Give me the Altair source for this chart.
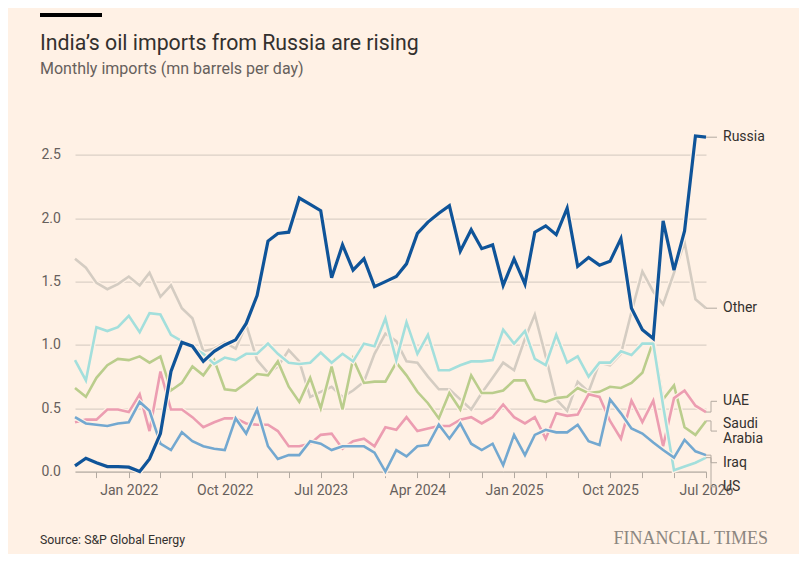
import altair as alt
import pandas as pd

# ---------------- data ----------------
months = [d.strftime("%Y-%m-%d") for d in pd.date_range("2021-08-01", periods=60, freq="MS")]

russia = [0.045, 0.105, 0.07, 0.04, 0.04, 0.035, 0.0, 0.10, 0.30, 0.79,
          1.02, 0.99, 0.87, 0.95, 1.00, 1.04, 1.17, 1.39, 1.82, 1.88,
          1.89, 2.16, 2.11, 2.06, 1.53, 1.79, 1.59, 1.68, 1.46, 1.50,
          1.54, 1.64, 1.88, 1.97, 2.04, 2.10, 1.74, 1.91, 1.76, 1.79,
          1.47, 1.68, 1.48, 1.89, 1.94, 1.87, 2.08, 1.62, 1.69, 1.63,
          1.66, 1.84, 1.29, 1.12, 1.05, 1.98, 1.59, 1.90, 2.65, 2.64]
other = [1.68, 1.61, 1.49, 1.44, 1.48, 1.54, 1.47, 1.57, 1.38, 1.47,
         1.29, 1.21, 0.95, 0.97, 1.02, 0.97, 1.16, 0.88, 0.78, 0.83,
         0.96, 0.87, 0.59, 0.63, 0.67, 0.59, 0.64, 0.71, 0.93, 1.09,
         1.03, 0.87, 0.86, 0.75, 0.65, 0.65, 0.57, 0.49, 0.62, 0.74,
         0.86, 0.80, 1.05, 1.24, 0.91, 0.57, 0.48, 0.71, 0.63, 0.86,
         0.84, 0.93, 1.26, 1.58, 1.42, 1.32, 1.57, 1.81, 1.36, 1.29]
iraq = [0.88, 0.72, 1.14, 1.11, 1.14, 1.23, 1.10, 1.25, 1.24, 1.08,
        1.03, 0.98, 0.93, 0.85, 0.90, 0.88, 0.93, 0.93, 1.01, 0.93,
        0.86, 0.85, 0.86, 0.94, 0.86, 0.93, 0.87, 1.01, 0.99, 1.21,
        0.88, 1.18, 0.93, 1.08, 0.80, 0.80, 0.84, 0.87, 0.87, 0.88,
        1.12, 1.01, 1.11, 0.89, 0.84, 1.08, 0.86, 0.91, 0.75, 0.86,
        0.86, 0.95, 0.92, 1.01, 1.01, 0.52, 0.01, 0.04, 0.07, 0.11]
saudi = [0.66, 0.59, 0.74, 0.84, 0.89, 0.88, 0.91, 0.86, 0.91, 0.64,
         0.70, 0.83, 0.76, 0.88, 0.65, 0.64, 0.70, 0.77, 0.76, 0.87,
         0.67, 0.55, 0.74, 0.50, 0.83, 0.49, 0.89, 0.70, 0.71, 0.71,
         0.86, 0.76, 0.63, 0.54, 0.42, 0.62, 0.49, 0.76, 0.62, 0.62,
         0.64, 0.72, 0.72, 0.57, 0.55, 0.58, 0.59, 0.66, 0.62, 0.63,
         0.67, 0.66, 0.70, 0.78, 1.03, 0.57, 0.68, 0.35, 0.29, 0.40]
uae = [0.39, 0.41, 0.41, 0.49, 0.49, 0.47, 0.61, 0.32, 0.79, 0.49,
       0.49, 0.43, 0.35, 0.39, 0.42, 0.42, 0.38, 0.37, 0.37, 0.32,
       0.20, 0.20, 0.22, 0.29, 0.30, 0.18, 0.24, 0.26, 0.20, 0.35,
       0.33, 0.43, 0.32, 0.34, 0.36, 0.36, 0.41, 0.43, 0.38, 0.43,
       0.53, 0.43, 0.38, 0.43, 0.26, 0.46, 0.44, 0.45, 0.61, 0.59,
       0.40, 0.26, 0.56, 0.39, 0.56, 0.20, 0.58, 0.64, 0.52, 0.47]
us = [0.43, 0.38, 0.37, 0.36, 0.38, 0.39, 0.55, 0.48, 0.22, 0.17,
      0.31, 0.24, 0.20, 0.18, 0.17, 0.42, 0.30, 0.49, 0.20, 0.10,
      0.13, 0.13, 0.24, 0.22, 0.17, 0.20, 0.20, 0.20, 0.15, 0.00,
      0.17, 0.12, 0.20, 0.21, 0.37, 0.26, 0.38, 0.22, 0.17, 0.22,
      0.05, 0.29, 0.13, 0.29, 0.33, 0.31, 0.31, 0.37, 0.24, 0.21,
      0.57, 0.46, 0.34, 0.30, 0.23, 0.17, 0.11, 0.25, 0.16, 0.13]

series_names = ["Russia", "Other", "Iraq", "Saudi Arabia", "UAE", "US"]
series_values = [russia, other, iraq, saudi, uae, us]
series_colors = ["#0f5499", "#d4ccc2", "#a3dfdc", "#bacd8c", "#ec9db1", "#73a8d0"]
series_widths = [3.2, 2.6, 2.6, 2.6, 2.6, 2.6]
draw_order = ["Other", "Saudi Arabia", "UAE", "Iraq", "US", "Russia"]

label_text = ["Russia", "Other", "UAE", "Saudi\nArabia", "Iraq", "US"]
label_series = ["Russia", "Other", "UAE", "Saudi Arabia", "Iraq", "US"]
label_pos = [2.64, 1.29, 0.555, 0.32, 0.07, -0.12]

y_ticks = [0.0, 0.5, 1.0, 1.5, 2.0, 2.5]
tick_months = [(2021, 10)] + [(y, m) for y in range(2022, 2027) for m in (1, 4, 7, 10) if (y, m) <= (2026, 7)]

title_text = "India’s oil imports from Russia are rising"
subtitle_text = "Monthly imports (mn barrels per day)"
source_text = "Source: S&P Global Energy"
brand_text = "FINANCIAL TIMES"

for v in series_values:
    assert len(v) == len(months)

# ---------------- styling ----------------
BG = "#fff1e5"
FONT = "Roboto"
DARK = "#33302e"
MID = "#66605c"
GRID = "#d2c8be"
AXIS = "#b3aaa1"
LEADER = "#b3aaa1"

df = pd.DataFrame([
    {"date": m, "series": n, "value": v}
    for n, vals in zip(series_names, series_values)
    for m, v in zip(months, vals)
])

last = {n: vals[-1] for n, vals in zip(series_names, series_values)}
lab = pd.DataFrame({
    "date": [months[-1]] * len(label_text),
    "name": label_text,
    "end": [last[s] for s in label_series],
    "label": label_pos,
    "lines": [t.count("\n") + 1 for t in label_text],
})

x_axis = alt.Axis(
    values=[alt.DateTime(year=y, month=m, date=1, utc=True) for y, m in tick_months],
    labelExpr="((utcyear(datum.value)*12 + utcmonth(datum.value) - 24264) % 9 == 0) ? utcFormat(datum.value, '%b %Y') : ''",
    tickSize=6, tickColor=AXIS, domainColor=AXIS, domainWidth=1, grid=False,
    labelFont=FONT, labelFontSize=14, labelColor=MID, labelPadding=6,
    labelOverlap=False, labelFlush=False, title=None,
)
y_axis = alt.Axis(
    values=y_ticks, format=".1f", labelAlign="left", labelBaseline="middle",
    labelPadding=34, ticks=False, tickSize=0, domain=False, grid=True,
    gridColor=GRID, gridWidth=1, labelFont=FONT, labelFontSize=14,
    labelColor=MID, title=None,
)
x_scale = alt.Scale(type="utc", nice=False, padding=0)
y_scale = alt.Scale(domain=[0, 2.7], nice=False, zero=False)


def X(field):
    return alt.X(f"{field}:T", scale=x_scale, axis=x_axis)


def Y(field):
    return alt.Y(f"{field}:Q", scale=y_scale, axis=y_axis)


layers = []
for name in draw_order:
    i = series_names.index(name)
    base = alt.Chart(df).transform_filter(alt.datum.series == name)
    layers.append(base.mark_line(color=BG, strokeWidth=series_widths[i] + 2.4,
                                 strokeJoin="miter", strokeCap="butt")
                  .encode(x=X("date"), y=Y("value")))
    layers.append(base.mark_line(color=series_colors[i], strokeWidth=series_widths[i],
                                 strokeJoin="miter", strokeCap="butt")
                  .encode(x=X("date"), y=Y("value")))

# leader lines and end labels
lab_chart = alt.Chart(lab)
layers.append(lab_chart.mark_rule(color=LEADER, strokeWidth=1)
              .encode(x=X("date"), x2=alt.value(636), y=Y("end")))
layers.append(lab_chart.mark_rule(color=LEADER, strokeWidth=1)
              .encode(x=alt.value(636), y=Y("end"), y2=alt.Y2("label:Q")))
layers.append(lab_chart.mark_rule(color=LEADER, strokeWidth=1)
              .encode(x=alt.value(636), x2=alt.value(642), y=Y("label")))
layers.append(lab_chart.transform_filter(alt.datum.lines == 1)
              .mark_text(align="left", baseline="middle", dx=17, font=FONT,
                         fontSize=14, color=DARK)
              .encode(x=X("date"), y=Y("label"), text="name:N"))
layers.append(lab_chart.transform_filter(alt.datum.lines == 2)
              .mark_text(align="left", baseline="middle", dx=17, dy=-7.5, font=FONT,
                         fontSize=14, color=DARK, lineBreak="\n", lineHeight=15)
              .encode(x=X("date"), y=Y("label"), text="name:N"))

# header / footer
bar_df = pd.DataFrame({"t": [title_text]})
layers.append(alt.Chart(bar_df).mark_rule(color="#000000", strokeWidth=4)
              .encode(x=alt.value(-35), x2=alt.value(27), y=alt.value(-114.6)))
layers.append(alt.Chart(pd.DataFrame({"t": [title_text]}))
              .mark_text(align="left", baseline="alphabetic", font=FONT, fontSize=21.3, color=DARK)
              .encode(x=alt.value(-35), y=alt.value(-80), text="t:N"))
layers.append(alt.Chart(pd.DataFrame({"t": [subtitle_text]}))
              .mark_text(align="left", baseline="alphabetic", font=FONT, fontSize=16, color=MID)
              .encode(x=alt.value(-35), y=alt.value(-55.5), text="t:N"))
layers.append(alt.Chart(pd.DataFrame({"t": [source_text]}))
              .mark_text(align="left", baseline="alphabetic", font=FONT, fontSize=12.3, color=DARK)
              .encode(x=alt.value(-35), y=alt.value(414.5), text="t:N"))
layers.append(alt.Chart(pd.DataFrame({"t": [brand_text]}))
              .mark_text(align="right", baseline="alphabetic", font="Liberation Serif",
                         fontSize=18, color="#8c8680")
              .encode(x=alt.value(693), y=alt.value(414.5), text="t:N"))

chart = alt.layer(*layers).properties(
    width=631, height=342,
    padding={"left": 67, "top": 121.6, "right": 93, "bottom": 82.4},
    autosize=alt.AutoSizeParams(type="none"),
    background=BG,
).configure_view(stroke=None)

chart.save("out.html", embed_options={"renderer": "svg", "actions": False})
